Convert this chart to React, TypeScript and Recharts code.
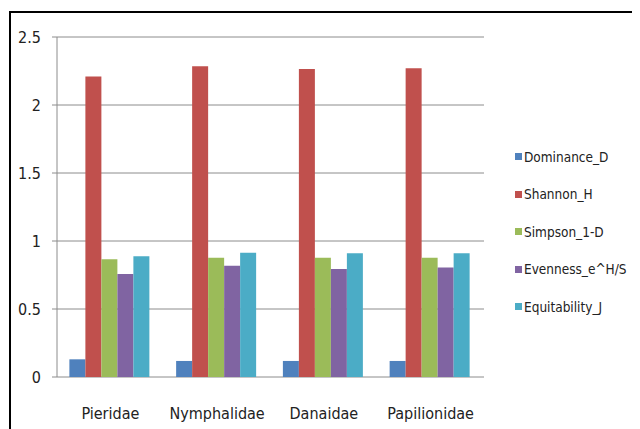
import React from "react";
import { BarChart, Bar, XAxis, YAxis, CartesianGrid, Legend } from "recharts";

const families = ["Pieridae", "Nymphalidae", "Danaidae", "Papilionidae"];
const dominanceD = [0.13, 0.118, 0.118, 0.118];
const shannonH = [2.21, 2.285, 2.265, 2.27];
const simpson1D = [0.865, 0.877, 0.877, 0.877];
const evennessEHS = [0.758, 0.818, 0.795, 0.805];
const equitabilityJ = [0.887, 0.913, 0.91, 0.91];
const yTicks = [0, 0.5, 1, 1.5, 2, 2.5];
const categoryBoundaries = [0, 1, 2, 3, 4];

const seriesNames = ["Dominance_D", "Shannon_H", "Simpson_1-D", "Evenness_e^H/S", "Equitability_J"];
const seriesColors = ["#4F81BD", "#C0504D", "#9BBB59", "#8064A2", "#4BACC6"];
const seriesValues = [dominanceD, shannonH, simpson1D, evennessEHS, equitabilityJ];

const data = families.map((f, i) => {
  const row: Record<string, string | number> = { family: f };
  seriesNames.forEach((n, s) => {
    row[n] = seriesValues[s][i];
  });
  return row;
});

const FONT = "'Liberation Sans Narrow', 'Arial Narrow', 'DejaVu Sans Condensed', sans-serif";
const GRAY = "#8c8c8c";

const LegendContent = () => {
  return (
    <div style={{ fontFamily: FONT, fontSize: 13.5, color: "#222", whiteSpace: "nowrap" }}>
      {seriesNames.map((n, s) => (
        <div key={n} style={{ height: 37.5, display: "flex", alignItems: "center" }}>
          <span
            style={{ display: "inline-block", width: 7, height: 7, background: seriesColors[s], marginRight: 2 }}
          />
          <span>{n}</span>
        </div>
      ))}
    </div>
  );
};

export default function App() {
  return (
    <div style={{ position: "relative", width: 632, height: 421 }}>
      <div
        style={{
          position: "absolute",
          left: 1,
          top: 3,
          width: 631,
          height: 418,
          borderLeft: "2px solid #000",
          borderTop: "2px solid #000",
          boxSizing: "border-box",
        }}
      />
      <div style={{ position: "absolute", left: 0, top: 0 }}>
        <BarChart
          width={632}
          height={421}
          data={data}
          margin={{ top: 29, right: 156, bottom: 0, left: 0 }}
          barCategoryGap="11.6%"
          barGap={0}
        >
          <CartesianGrid vertical={false} stroke={GRAY} xAxisId="cat" />
          <XAxis
            xAxisId="grid"
            type="number"
            domain={[0, 4]}
            ticks={categoryBoundaries}
            allowDataOverflow
            height={0}
            tick={false}
            tickSize={7}
            stroke={GRAY}
            axisLine={{ stroke: GRAY }}
            tickLine={{ stroke: GRAY }}
          />
          <XAxis
            xAxisId="cat"
            dataKey="family"
            height={52}
            axisLine={false}
            tickLine={false}
            tickSize={7}
            tickMargin={24}
            interval={0}
            tick={{ fontFamily: FONT, fontSize: 16, fill: "#222" }}
          />
          <YAxis
            domain={[0, 2.5]}
            ticks={yTicks}
            width={49}
            tickSize={5}
            tickMargin={11}
            axisLine={{ stroke: GRAY }}
            tickLine={{ stroke: GRAY }}
            tick={{ fontFamily: FONT, fontSize: 16, fill: "#222" }}
            interval={0}
          />
          {seriesNames.map((n, s) => (
            <Bar key={n} xAxisId="cat" dataKey={n} name={n} fill={seriesColors[s]} isAnimationActive={false} />
          ))}
          <Legend
            layout="vertical"
            align="center"
            verticalAlign="middle"
            wrapperStyle={{ left: 507, top: 130 }}
            content={<LegendContent />}
          />
        </BarChart>
      </div>
    </div>
  );
}
